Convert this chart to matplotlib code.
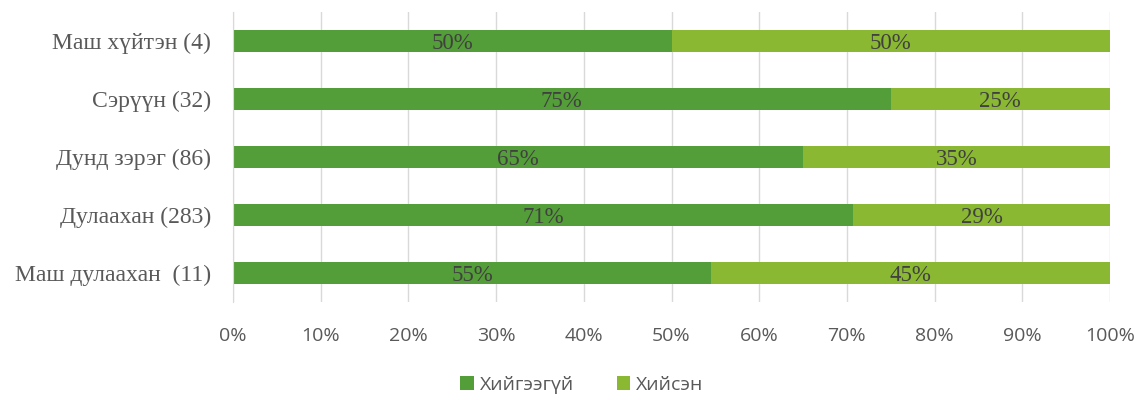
import matplotlib
matplotlib.use("Agg")
import matplotlib.pyplot as plt
from matplotlib.ticker import FuncFormatter, MultipleLocator

categories = ["Маш дулаахан  (11)", "Дулаахан (283)", "Дунд зэрэг (86)", "Сэрүүн (32)", "Маш хүйтэн (4)"]
not_done = [54.55, 70.7, 65.0, 75.0, 50.0]
done = [45.45, 29.3, 35.0, 25.0, 50.0]
series_names = ["Хийгээгүй", "Хийсэн"]
colors = ["#549E39", "#8AB833"]

fig = plt.figure(figsize=(11.41, 4.0), dpi=100)
ax = fig.add_axes([233/1141, 1-302/400, (1110-233)/1141, 290/400])

y = list(range(len(categories)))
b1 = ax.barh(y, not_done, height=0.38, color=colors[0], label=series_names[0], zorder=3)
b2 = ax.barh(y, done, left=not_done, height=0.38, color=colors[1], label=series_names[1], zorder=3)

for vals, lefts in [(not_done, [0]*5), (done, not_done)]:
    for yi, v, l in zip(y, vals, lefts):
        ax.text(l + v/2, yi, f"{int(v + 0.5)}%", ha="center", va="center_baseline",
                fontsize=16.5, family="Liberation Serif", color="#404040", zorder=4)

ax.set_xlim(0, 100)
ax.set_ylim(-0.5, 4.5)
ax.xaxis.set_major_locator(MultipleLocator(10))
ax.xaxis.set_major_formatter(FuncFormatter(lambda v, p: f"{v:.0f}%"))
ax.set_yticks(y)
ax.set_yticklabels(categories, family="Liberation Serif", fontsize=17, color="#595959")
for lbl in ax.get_xticklabels():
    lbl.set_family("Open Sans")
    lbl.set_fontsize(14)
    lbl.set_color("#595959")
ax.tick_params(axis="both", length=0)
ax.tick_params(axis="x", pad=18)
ax.tick_params(axis="y", pad=16)
ax.grid(axis="x", color="#D9D9D9", linewidth=1, zorder=0)
for s in ["top", "right", "bottom"]:
    ax.spines[s].set_visible(False)
ax.spines["left"].set_color("#D9D9D9")
ax.spines["left"].set_zorder(3.5)

leg = fig.legend(handles=[b1, b2], labels=series_names, loc="center",
                 bbox_to_anchor=(582/1141, 1-385/400), ncol=2, frameon=False,
                 prop={"family": "Open Sans", "size": 14}, handlelength=0.7,
                 handleheight=0.7, columnspacing=2.2, handletextpad=0.3)
for t in leg.get_texts():
    t.set_color("#595959")

fig.savefig("out.png", dpi=100)
